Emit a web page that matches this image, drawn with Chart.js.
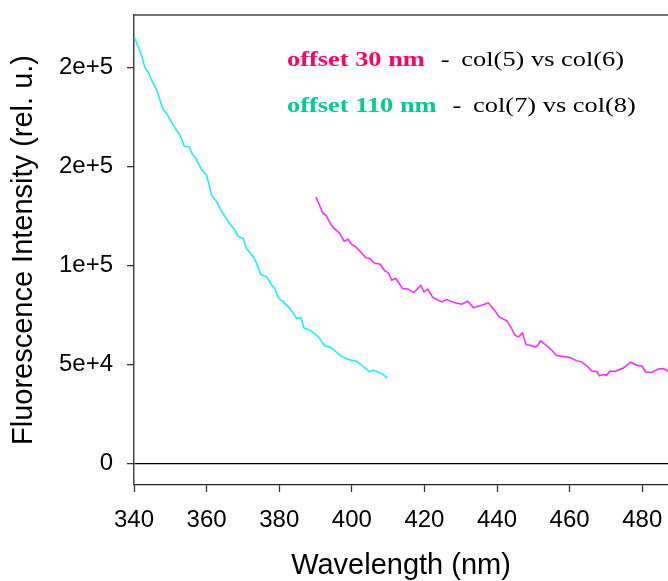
<!DOCTYPE html>
<html>
<head>
<meta charset="utf-8">
<script src="https://cdn.jsdelivr.net/npm/chart.js@4/dist/chart.umd.min.js"></script>
<style>
  body { margin: 0; background: #fff; }
  #chart { display: block; }
</style>
</head>
<body>
<canvas id="chart" width="668" height="581"></canvas>
<script>
// offset 110 nm - col(7) vs col(8)
const cyanWl = [340.1, 342.1, 343.0, 343.9, 344.9, 346.3, 347.9, 349.0, 350.8, 352.7, 353.9, 355.2, 356.1, 357.0, 358.6, 360.0,
  361.4, 362.8, 364.2, 366.0, 367.8, 368.7, 370.1, 371.0, 372.9, 373.8, 374.9, 376.6, 377.9, 378.8, 379.9, 381.1,
  383.0, 384.8, 386.0, 386.8, 388.5, 390.8, 392.6, 394.0, 397.2, 399.0, 401.3, 402.7, 405.0, 405.9, 408.2, 409.8];
const cyanIntensity = [215300, 206000, 199800, 197600, 193400, 188400, 179100, 176600, 170700, 165600, 160100, 159700, 156000, 154200, 148300, 145400,
  135300, 132000, 126900, 121900, 117700, 114600, 113500, 108400, 104200, 100800, 95400, 94100, 89900, 88200, 83200, 81500,
  78100, 73100, 73600, 68300, 67200, 63800, 59200, 58700, 54000, 52400, 51500, 49500, 46100, 47000, 45300, 43100];

// offset 30 nm - col(5) vs col(6)
const magentaWl = [390.1, 391.0, 392.0, 392.9, 394.0, 394.9, 396.7, 397.9, 399.0, 400.0, 400.9, 402.7, 403.9, 405.0, 406.1, 407.8,
  409.1, 410.1, 411.0, 412.1, 414.0, 415.6, 417.1, 419.0, 419.9, 420.9, 422.3, 424.8, 426.1, 428.4, 430.3, 431.9,
  433.5, 435.8, 437.6, 439.5, 440.6, 442.7, 443.8, 445.0, 445.9, 447.0, 448.0, 449.1, 450.5, 451.1, 452.0, 453.2,
  455.1, 456.3, 457.8, 460.1, 462.0, 463.3, 465.1, 466.1, 467.5, 468.2, 469.3, 470.2, 471.1, 472.5, 474.8, 476.8,
  478.5, 479.9, 481.0, 482.6, 484.4, 485.8, 487.1];
const magentaIntensity = [134500, 130800, 126400, 125200, 121400, 119000, 116000, 112100, 113100, 110400, 109600, 106200, 103700, 103400, 101200, 100500,
  97100, 96100, 92400, 93400, 88200, 87900, 86200, 89900, 86500, 87900, 83700, 81500, 82700, 81000, 80300, 81800,
  78600, 79800, 81000, 76800, 73900, 71900, 68800, 64600, 63800, 65800, 59900, 59600, 58700, 59200, 61800, 60100,
  57100, 54500, 54000, 53400, 51700, 51200, 48600, 46600, 46300, 44100, 44800, 44400, 46600, 46300, 48100, 51000,
  49500, 49100, 46100, 45800, 47600, 47800, 46500];

const xTickValues = [340, 360, 380, 400, 420, 440, 460, 480];
const yTickValues = [0, 50000, 100000, 150000, 200000];
const yTickLabels = ['0', '5e+4', '1e+5', '2e+5', '2e+5'];

const legendLines = [
  { label: 'offset 30 nm', color: '#ff0066', text: 'col(5) vs col(6)' },
  { label: 'offset 110 nm', color: '#00cc99', text: 'col(7) vs col(8)' }
];

function toPoints(xs, ys) {
  return xs.map((x, i) => ({ x: x, y: ys[i] }));
}

// cadre du haut + légende en texte
const decorPlugin = {
  id: 'decor',
  afterDraw(chart) {
    const ctx = chart.ctx;
    const area = chart.chartArea;
    ctx.save();
    ctx.strokeStyle = '#444';
    ctx.lineWidth = 1.5;
    ctx.beginPath();
    ctx.moveTo(area.left, area.top);
    ctx.lineTo(chart.width, area.top);
    ctx.stroke();

    const sx = 1.2;
    legendLines.forEach((item, i) => {
      const x = 287;
      const y = 66 + i * 45.5;
      ctx.save();
      ctx.translate(x, y);
      ctx.scale(sx, 1);
      ctx.textBaseline = 'alphabetic';
      ctx.font = 'bold 22px "Liberation Serif", "Times New Roman", serif';
      ctx.fillStyle = item.color;
      ctx.fillText(item.label, 0, 0);
      const w = ctx.measureText(item.label).width;
      ctx.font = '22px "Liberation Serif", "Times New Roman", serif';
      ctx.fillStyle = '#000';
      ctx.fillText('-', w + 16 / sx, 0);
      ctx.fillText(item.text, w + 36.5 / sx, 0);
      ctx.restore();
    });
    ctx.restore();
  }
};

const ctx = document.getElementById('chart');
new Chart(ctx, {
  type: 'line',
  data: {
    datasets: [
      {
        label: 'offset 110 nm',
        data: toPoints(cyanWl, cyanIntensity),
        borderColor: '#11f0ff',
        borderWidth: 1.5,
        pointRadius: 0,
        fill: false
      },
      {
        label: 'offset 30 nm',
        data: toPoints(magentaWl, magentaIntensity),
        borderColor: '#ff22ff',
        borderWidth: 1.5,
        pointRadius: 0,
        fill: false
      }
    ]
  },
  options: {
    responsive: false,
    animation: false,
    devicePixelRatio: 1,
    layout: { padding: { top: 15, right: 0, left: 0, bottom: 0 } },
    plugins: {
      legend: { display: false },
      tooltip: { enabled: false }
    },
    scales: {
      x: {
        type: 'linear',
        min: 340,
        max: 487.1,
        afterFit(scale) {
          scale.height = 96;
          scale.paddingLeft = 0;
          scale.paddingRight = 0;
        },
        afterBuildTicks(scale) { scale.ticks = xTickValues.map(v => ({ value: v })); },
        ticks: {
          color: '#000',
          padding: 14,
          maxRotation: 0,
          font: { family: '"Liberation Sans", Arial, sans-serif', size: 24 }
        },
        grid: { drawOnChartArea: false, tickLength: 7, tickColor: '#333', tickWidth: 1.3 },
        border: { color: '#222', width: 1.3 },
        title: {
          display: true,
          text: 'Wavelength (nm)',
          color: '#000',
          font: { family: '"Liberation Sans", Arial, sans-serif', size: 29, lineHeight: 1.0 },
          padding: { top: 0, bottom: 1 }
        }
      },
      y: {
        type: 'linear',
        min: -11000,
        max: 226400,
        afterFit(scale) {
          scale.width = 134;
          scale.paddingTop = 0;
          scale.paddingBottom = 0;
        },
        afterBuildTicks(scale) { scale.ticks = yTickValues.map(v => ({ value: v })); },
        ticks: {
          color: '#000',
          padding: 14,
          font: { family: '"Liberation Sans", Arial, sans-serif', size: 24 },
          callback(value) {
            const i = yTickValues.indexOf(value);
            return i >= 0 ? yTickLabels[i] : '';
          }
        },
        grid: {
          drawOnChartArea: true,
          tickLength: 7,
          tickColor: '#333',
          tickWidth: 1.3,
          lineWidth: 1.3,
          color(c) { return c.tick && c.tick.value === 0 ? '#000' : 'rgba(0,0,0,0)'; }
        },
        border: { color: '#444', width: 1.5 },
        title: {
          display: true,
          text: 'Fluorescence Intensity (rel. u.)',
          color: '#000',
          font: { family: '"Liberation Sans", Arial, sans-serif', size: 29, lineHeight: 1.2 },
          padding: { top: 7, bottom: 0 }
        }
      }
    }
  },
  plugins: [decorPlugin]
});
</script>
</body>
</html>
